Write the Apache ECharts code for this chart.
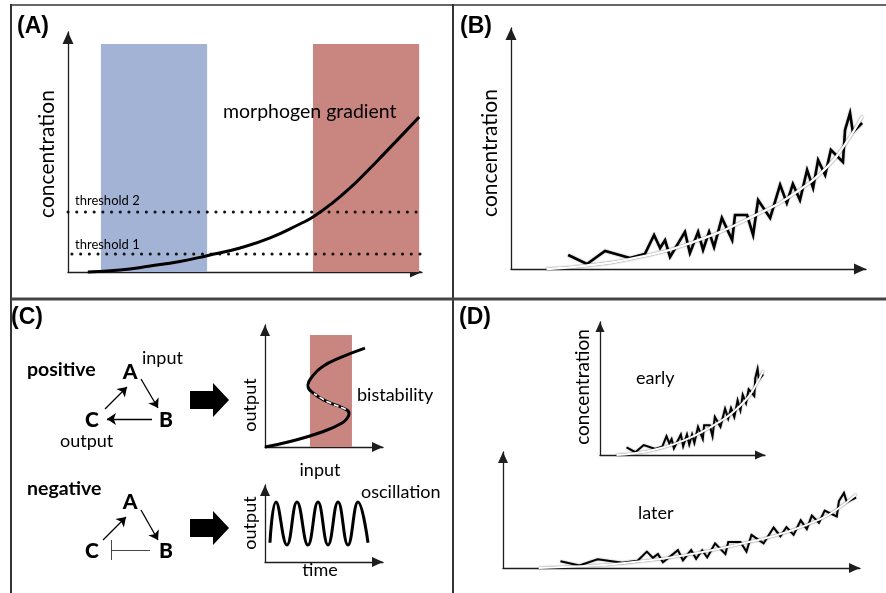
<!DOCTYPE html>
<html><head><meta charset="utf-8">
<script src="https://cdn.jsdelivr.net/npm/echarts@6/dist/echarts.min.js"></script>
<style>html,body{margin:0;padding:0;background:#fff}#c{width:886px;height:593px}</style>
</head><body><div id="c"></div>
<script>
// ---------- Panel A ----------
const morphogenCurve = [[5.6,0],[14.7,0.8],[23.2,2.5],[31.6,4.4],[39.3,6.8],[48.6,10],[57.1,14.2],[65.5,20],[69.2,22.9],[74.9,29],[80,35.5],[84.5,42],[89,48.8],[93.8,56.2],[99.2,64.6]];
const threshold1 = [[1.1,7.5],[100.3,7.5]];
const threshold2 = [[0,25],[99.2,25]];
const blueBand = [9.3, 39.3, 95];   // xFrom, xTo, top
const redBand = [69.2, 99.2, 95];
// ---------- Panels B and D (same profile) ----------
const noisyProfile = [[16.1,5.8],[21.4,2.1],[26.5,7.5],[33.5,4.6],[37.7,6.2],[40.3,14.1],[42,8.7],[43.4,12],[44.8,5],[49,15.4],[50.4,6.6],[52.7,15.4],[54.1,7.9],[55.8,15.4],[57.2,9.1],[59.4,21.2],[62.3,12],[63.1,22.4],[66.5,22.4],[68.2,14.1],[69.6,28.6],[73,21.2],[75.8,34.9],[77.7,27.4],[79.4,35.3],[81.4,28.6],[83.4,41.1],[85.1,33.6],[86.5,45.2],[88.5,39],[90.1,49.4],[93.5,44.4],[94.1,57.7],[95.5,64.7],[96.3,56.8],[98.9,60.6]];
const fittedProfile = [[10,0],[20,1.2],[32.7,3.9],[51.3,11.2],[70.1,23.2],[80,31.5],[89,42.3],[94,51.5],[99,63.5]];
// ---------- Panel C ----------
const bistableCurve = [[0,0],[19.5,4.1],[48.3,12.3],[65.3,19.7],[70.3,24.6],[71.2,27.9],[66.1,32],[53.4,36.9],[40.7,44.3],[36.4,50.8],[39.8,57.4],[48.3,65.6],[65.3,73.8],[84.7,81.1]];
const unstableBranch = [[68.5,30.8],[66.1,32],[53.4,36.9],[41.5,43.8]];
const bistableBand = [38.1, 73.7, 91.8];
const oscillation = [[4.2,25],[9.3,78],[18.6,22],[27.1,78],[36.4,22],[44.9,78],[53.4,22],[61.9,78],[70.3,22],[78.8,78],[87.3,25]];
const positiveNodes = [['A',70,32],['B',106,80],['C',32,80]];
const negativeNodes = [['A',70,162],['B',106,211],['C',32,211]];
const activations = [[[45,69],[67,47]],[[81,39],[98,68]],[[92,79],[47,79]],[[43,200],[66,177]],[[81,170],[98,200]]];
const inhibition = [[[90,210],[51,210]],[[51,200],[51,220]]];

const chart = echarts.init(document.getElementById('c'), null, {renderer:'canvas'});
const FONT = 'Lato, "Open Sans", sans-serif';
const AX = '#1e1e1e';

const grids = [
  {left:68, top:32, width:354, height:240},    // A
  {left:511, top:28, width:355, height:241},   // B
  {left:265, top:325, width:118, height:122},  // C bistability
  {left:265, top:485, width:118, height:77},   // C oscillation
  {left:600, top:322, width:165, height:133},  // D early
  {left:503, top:452, width:357, height:116},  // D later
  {left:60, top:340, width:140, height:230}    // C diagrams (hidden axes)
];
const arrowSz = [[11,12],[11,12],[10,11],[10,11],[9,10],[10,11]];
function mkAxis(i, isY){
  if (i === 6) {
    return isY ? {gridIndex:6, type:'value', min:0, max:230, inverse:true, show:false}
               : {gridIndex:6, type:'value', min:0, max:140, show:false};
  }
  const s = arrowSz[i];
  return {gridIndex:i, type:'value', min:0, max:100,
    axisLine:{show:true, onZero:false, symbol:['none','triangle'], symbolSize:s, symbolOffset:[0,-s[1]/2],
      lineStyle:{color:AX, width:1.3}},
    axisTick:{show:false}, axisLabel:{show:false}, splitLine:{show:false}};
}
const xAxes = grids.map((g,i)=>mkAxis(i,false));
const yAxes = grids.map((g,i)=>mkAxis(i,true));

function band(b, color){
  return [{xAxis:b[0], yAxis:0, itemStyle:{color:color}}, {xAxis:b[1], yAxis:b[2]}];
}
function lineS(gi, data, style, extra){
  return Object.assign({type:'line', xAxisIndex:gi, yAxisIndex:gi, data:data, showSymbol:false, symbol:'none',
    clip:false, lineStyle:style, silent:true, z:3}, extra||{});
}
const noisyStyle = w => ({color:'#000', width:w, join:'miter', shadowColor:'rgba(0,0,0,0.35)', shadowBlur:2});
const fitStyle = w => ({color:'#fff', width:w, shadowColor:'rgba(0,0,0,0.7)', shadowBlur:1.5});

const series = [
  // A
  {type:'line', xAxisIndex:0, yAxisIndex:0, data:[], silent:true,
    markArea:{silent:true, data:[band(blueBand,'#a3b3d6'), band(redBand,'#c98580')]}},
  lineS(0, threshold2, {color:'#111', width:3, type:[0.1,8.6], cap:'round'}),
  lineS(0, threshold1, {color:'#111', width:3, type:[0.1,8.6], cap:'round'}),
  lineS(0, morphogenCurve, {color:'#000', width:3}, {smooth:true}),
  // B
  lineS(1, noisyProfile, noisyStyle(2.6)),
  lineS(1, fittedProfile, fitStyle(2.4), {smooth:true, z:4}),
  // C bistability
  {type:'line', xAxisIndex:2, yAxisIndex:2, data:[], silent:true,
    markArea:{silent:true, data:[band(bistableBand,'#c98580')]}},
  lineS(2, bistableCurve, {color:'#000', width:3}, {smooth:true}),
  lineS(2, unstableBranch, {color:'#fff', width:1.6, type:[5,3]}, {smooth:true, z:4}),
  // C oscillation
  lineS(3, oscillation, {color:'#000', width:3}, {smooth:0.45}),
  // D early
  lineS(4, noisyProfile, noisyStyle(2)),
  lineS(4, fittedProfile, fitStyle(2), {smooth:true, z:4}),
  // D later
  lineS(5, noisyProfile, noisyStyle(2)),
  lineS(5, fittedProfile, fitStyle(2), {smooth:true, z:4}),
  // C diagrams
  {type:'scatter', xAxisIndex:6, yAxisIndex:6, silent:true, symbol:'circle', symbolSize:2, itemStyle:{color:'#fff', opacity:1},
    data: positiveNodes.concat(negativeNodes).map(n=>({name:n[0], value:[n[1],n[2]]})),
    label:{show:true, position:[1,1], align:'center', verticalAlign:'middle', formatter:'{b}', color:'#000', opacity:1,
      textBorderWidth:0, fontFamily:FONT, fontWeight:900, fontSize:21}},
  {type:'lines', coordinateSystem:'cartesian2d', xAxisIndex:6, yAxisIndex:6, silent:true,
    symbol:['none','arrow'], symbolSize:[0,9], lineStyle:{color:'#000', width:1.3, opacity:1},
    data: activations.map(c=>({coords:c}))},
  {type:'lines', coordinateSystem:'cartesian2d', xAxisIndex:6, yAxisIndex:6, silent:true,
    symbol:'none', lineStyle:{color:'#333', width:0.9, opacity:1},
    data: inhibition.map(c=>({coords:c}))}
];

function txt(text, x, y, size, opts){
  opts = opts||{};
  return {type:'text', x:x, y:y, rotation:opts.rot||0, z:100, silent:true,
    style:{text:text, fill:'#000', font:(opts.bold?'bold ':'')+size+'px '+(opts.family||FONT),
      align:opts.align||'left', textAlign:opts.align||'left', verticalAlign:'middle', textVerticalAlign:'middle'}};
}
function hline(x1,y,x2,w,c){return {type:'line', z:100, silent:true, shape:{x1:x1,y1:y,x2:x2,y2:y}, style:{stroke:c,lineWidth:w}};}
function vline(x,y1,y2,w,c){return {type:'line', z:100, silent:true, shape:{x1:x,y1:y1,x2:x,y2:y2}, style:{stroke:c,lineWidth:w}};}
function fatArrow(x, y){
  return {type:'polygon', z:100, silent:true, shape:{points:[[x,y-9],[x+23,y-9],[x+23,y-17],[x+39,y],[x+23,y+17],[x+23,y+9],[x,y+9]]}, style:{fill:'#000'}};
}
const PL = '"Liberation Sans", Arial, sans-serif';
const graphic = [
  hline(11,5,886,2,'#666'),
  vline(11,4,593,2,'#333'),
  vline(453,4,593,2,'#333'),
  hline(11,299,886,3,'#444'),
  txt('(A)',17,27,23,{bold:true,family:PL}),
  txt('(B)',460,27,23,{bold:true,family:PL}),
  txt('(C)',11,318,23,{bold:true,family:PL}),
  txt('(D)',459,318,23,{bold:true,family:PL}),
  txt('concentration',47,154,21,{rot:Math.PI/2,align:'center'}),
  txt('morphogen gradient',223,112,19.5),
  txt('threshold 2',75,201,13),
  txt('threshold 1',75,245,13),
  txt('concentration',490,153,21,{rot:Math.PI/2,align:'center'}),
  txt('positive',27,370,19.5,{bold:true}),
  txt('input',142,358,18),
  txt('output',60,441,18),
  txt('negative',27,489,19.5,{bold:true}),
  fatArrow(190,400),
  fatArrow(190,528),
  txt('output',250,405,18,{rot:Math.PI/2,align:'center'}),
  txt('bistability',357,395,18),
  txt('input',320,470,18,{align:'center'}),
  txt('oscillation',361,492,18),
  txt('output',250,523,18,{rot:Math.PI/2,align:'center'}),
  txt('time',320,570,18,{align:'center'}),
  txt('concentration',583,387,19,{rot:Math.PI/2,align:'center'}),
  txt('early',636,378,18),
  txt('later',638,513,18)
];

chart.setOption({
  animation:false,
  backgroundColor:'#fff',
  grid:grids, xAxis:xAxes, yAxis:yAxes, series:series, graphic:graphic
});
</script></body></html>
